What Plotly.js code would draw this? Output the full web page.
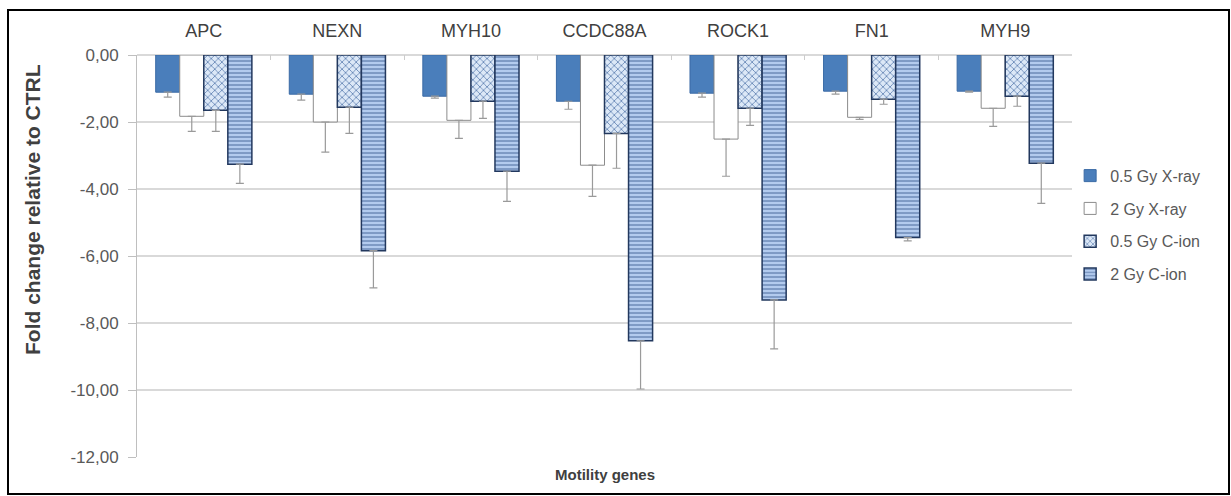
<!DOCTYPE html>
<html>
<head>
<meta charset="utf-8">
<script src="https://cdn.plot.ly/plotly-3.0.1.min.js"></script>
<style>
  html, body { margin: 0; padding: 0; background: #fff; }
  #wrap { position: relative; width: 1231px; height: 496px; }
  #chart { width: 1231px; height: 496px; }
  #frame { position: absolute; left: 7px; top: 9px; width: 1219px; height: 482px; border: 2px solid #000; pointer-events: none; }
</style>
</head>
<body>
<div id="wrap">
  <div id="chart"></div>
  <div id="frame"></div>
</div>
<script>
const genes = ["APC", "NEXN", "MYH10", "CCDC88A", "ROCK1", "FN1", "MYH9"];
const seriesNames = ["0.5 Gy X-ray", "2 Gy X-ray", "0.5 Gy C-ion", "2 Gy C-ion"];

const xray05 = [-1.11, -1.17, -1.23, -1.38, -1.14, -1.08, -1.08];
const xray2  = [-1.83, -2.00, -1.95, -3.29, -2.51, -1.86, -1.59];
const cion05 = [-1.65, -1.56, -1.38, -2.34, -1.59, -1.32, -1.23];
const cion2  = [-3.26, -5.84, -3.47, -8.53, -7.31, -5.45, -3.23];

const err_xray05 = [0.15, 0.18, 0.06, 0.24, 0.12, 0.09, 0.03];
const err_xray2  = [0.45, 0.90, 0.54, 0.93, 1.11, 0.06, 0.54];
const err_cion05 = [0.63, 0.78, 0.51, 1.04, 0.51, 0.15, 0.30];
const err_cion2  = [0.57, 1.11, 0.90, 1.44, 1.46, 0.10, 1.20];

const yTicks = [0, -2, -4, -6, -8, -10, -12];
const yTickText = ["0,00", "-2,00", "-4,00", "-6,00", "-8,00", "-10,00", "-12,00"];

const errStyle = (arr) => ({
  type: "data", symmetric: false, array: arr.map(() => 0), arrayminus: arr,
  color: "#9a9a9a", thickness: 1.2, width: 4
});

const data = [
  { type: "bar", name: seriesNames[0], x: genes, y: xray05, legendgroup: "a",
    marker: { color: "#4a7ebb", line: { color: "#3a6aa5", width: 1 } },
    error_y: errStyle(err_xray05) },
  { type: "bar", name: seriesNames[1], x: genes, y: xray2, legendgroup: "b",
    marker: { color: "#ffffff", line: { color: "#8c8c8c", width: 1 } },
    error_y: errStyle(err_xray2) },
  { type: "bar", name: seriesNames[2], x: genes, y: cion05, legendgroup: "c",
    marker: { color: "#c6d9f1", line: { color: "#22385e", width: 1.5 },
      pattern: { shape: "x", fgcolor: "#4a6fa5", bgcolor: "#dce8f7", size: 5, solidity: 0.25 } },
    error_y: errStyle(err_cion05) },
  { type: "bar", name: seriesNames[3], x: genes, y: cion2, legendgroup: "d",
    marker: { color: "#a9c4ea", line: { color: "#22385e", width: 1.5 },
      pattern: { shape: "-", fgcolor: "#4a6a9c", bgcolor: "#b3cbee", size: 4, solidity: 0.25 } },
    error_y: errStyle(err_cion2) }
];

const layout = {
  width: 1231, height: 496,
  margin: { l: 137, r: 159, t: 55, b: 39 },
  paper_bgcolor: "#ffffff", plot_bgcolor: "#ffffff",
  font: { family: "Liberation Sans, Arial, sans-serif", color: "#404040" },
  barmode: "group",
  bargap: 0.28,
  bargroupgap: 0,
  showlegend: true,
  legend: {
    x: 0.998, y: 0.742, xanchor: "left", yanchor: "top",
    font: { size: 16, color: "#595959" },
    traceorder: "grouped", tracegroupgap: 9,
    itemwidth: 30, bgcolor: "rgba(0,0,0,0)"
  },
  xaxis: {
    side: "top", type: "category",
    tickfont: { size: 18, color: "#404040" },
    showgrid: false, showline: false, zeroline: false,
    ticks: "inside", tickson: "boundaries", ticklen: 5, tickcolor: "#cccccc",
    ticklabelstandoff: 13
  },
  yaxis: {
    range: [-12, 0], tickvals: yTicks, ticktext: yTickText,
    tickfont: { size: 17, color: "#595959" },
    showgrid: true, gridcolor: "#d9d9d9", gridwidth: 1.5,
    zeroline: true, zerolinecolor: "#d9d9d9", zerolinewidth: 1.5,
    showline: true, linecolor: "#bfbfbf", linewidth: 1,
    ticks: "outside", ticklen: 8, tickcolor: "#bfbfbf",
    ticklabelstandoff: 6
  },
  annotations: [
    { text: "<b>Fold change relative to CTRL</b>", xref: "paper", yref: "paper",
      x: -0.111, y: 0.615, xanchor: "center", yanchor: "middle", textangle: -90,
      showarrow: false, font: { size: 21, color: "#404040" } },
    { text: "<b>Motility genes</b>", xref: "paper", yref: "paper", x: 0.5, y: 0, yanchor: "top", yshift: -7,
      showarrow: false, font: { size: 15, color: "#404040" } }
  ]
};

Plotly.newPlot("chart", data, layout, { displayModeBar: false, staticPlot: true });
</script>
</body>
</html>
